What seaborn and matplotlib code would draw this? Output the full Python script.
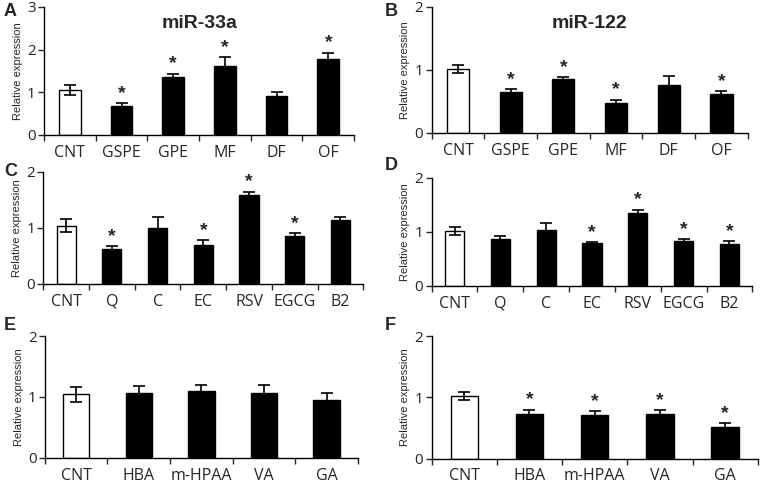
import matplotlib
matplotlib.use("Agg")
import matplotlib.pyplot as plt
import seaborn as sns
import numpy as np
import pandas as pd

sns.set_style("white")
plt.rcParams["font.family"] = ["Open Sans", "DejaVu Sans"]

# Panel A / B: extracts
cats_ab = ["CNT", "GSPE", "GPE", "MF", "DF", "OF"]
a_vals = [1.05, 0.68, 1.35, 1.62, 0.91, 1.77]
a_err = [0.11, 0.06, 0.08, 0.20, 0.09, 0.16]
a_sig = [False, True, True, True, False, True]
b_vals = [1.01, 0.65, 0.86, 0.48, 0.76, 0.61]
b_err = [0.06, 0.04, 0.02, 0.05, 0.14, 0.05]
b_sig = [False, True, True, True, False, True]

# Panel C / D: compounds
cats_cd = ["CNT", "Q", "C", "EC", "RSV", "EGCG", "B2"]
c_vals = [1.04, 0.62, 1.00, 0.69, 1.58, 0.85, 1.14]
c_err = [0.12, 0.05, 0.19, 0.09, 0.07, 0.06, 0.06]
c_sig = [False, True, False, True, True, True, False]
d_vals = [1.02, 0.86, 1.03, 0.79, 1.34, 0.83, 0.78]
d_err = [0.07, 0.07, 0.13, 0.02, 0.07, 0.04, 0.05]
d_sig = [False, False, False, True, True, True, True]

# Panel E / F: metabolites
cats_ef = ["CNT", "HBA", "m-HPAA", "VA", "GA"]
e_vals = [1.04, 1.06, 1.09, 1.07, 0.95]
e_err = [0.12, 0.12, 0.11, 0.12, 0.12]
e_sig = [False, False, False, False, False]
f_vals = [1.02, 0.73, 0.72, 0.73, 0.52]
f_err = [0.06, 0.07, 0.06, 0.06, 0.06]
f_sig = [False, True, True, True, True]

# letter, categories, values, errors, significance, ymax, title, axes box, letter pos (px)
panels = [
    ("A", cats_ab, a_vals, a_err, a_sig, 3, "miR-33a", [0.058, 0.723, 0.408, 0.263], (4, 12)),
    ("B", cats_ab, b_vals, b_err, b_sig, 2, "miR-122", [0.568, 0.727, 0.416, 0.259], (385, 12)),
    ("C", cats_cd, c_vals, c_err, c_sig, 2, None, [0.057, 0.417, 0.421, 0.230], (4, 172)),
    ("D", cats_cd, d_vals, d_err, d_sig, 2, None, [0.568, 0.413, 0.422, 0.222], (385, 166)),
    ("E", cats_ef, e_vals, e_err, e_sig, 2, None, [0.059, 0.06, 0.412, 0.250], (4, 326)),
    ("F", cats_ef, f_vals, f_err, f_sig, 2, None, [0.568, 0.058, 0.429, 0.252], (385, 326)),
]

W, H = 760, 487
fig = plt.figure(figsize=(7.6, 4.87), dpi=100)

for letter, cats, vals, errs, sig, ymax, title, pos, lpos in panels:
    ax = fig.add_axes(pos)
    df = pd.DataFrame({"cat": cats, "val": vals})
    colors = ["white"] + ["black"] * (len(cats) - 1)
    sns.barplot(data=df, x="cat", y="val", hue="cat", palette=colors,
                legend=False, width=0.42, edgecolor="black", linewidth=1,
                ax=ax)
    x = np.arange(len(cats))
    ax.errorbar(x, vals, yerr=errs, fmt="none", ecolor="black",
                elinewidth=1.2, capsize=4, capthick=1.2)
    for xi, v, e, s in zip(x, vals, errs, sig):
        if s:
            ax.text(xi, v + e + ymax * 0.01, "*", ha="center", va="bottom",
                    fontsize=14, fontweight="bold", family="Liberation Sans")
    n = len(cats)
    ax.set_xlim(-0.5, n - 0.5)
    ax.set_ylim(0, ymax)
    ax.set_yticks(range(ymax + 1))
    ax.set_xticks(x)
    ax.set_xticklabels(cats, fontsize=11.5)
    ax.set_xticks(np.arange(n + 1) - 0.5, minor=True)
    ax.tick_params(axis="x", which="major", length=0, pad=7)
    ax.tick_params(axis="x", which="minor", length=4, width=1, direction="out",
                   bottom=True)
    ax.tick_params(axis="y", length=4, width=1, direction="out", left=True,
                   labelsize=11, pad=2)
    ax.set_xlabel("")
    ax.set_ylabel("Relative expression", fontsize=8, family="Liberation Sans",
                  labelpad=3)
    sns.despine(ax=ax)
    for sp in ["left", "bottom"]:
        ax.spines[sp].set_color("black")
        ax.spines[sp].set_linewidth(1)
    if title:
        ax.set_title(title, fontsize=14, fontweight="bold",
                     family="Liberation Sans", pad=-15, y=1.0)
    fig.text(lpos[0] / W, 1 - lpos[1] / H, letter, fontsize=13,
             fontweight="bold", family="Liberation Sans", va="center")

fig.savefig("out.png", dpi=100)
